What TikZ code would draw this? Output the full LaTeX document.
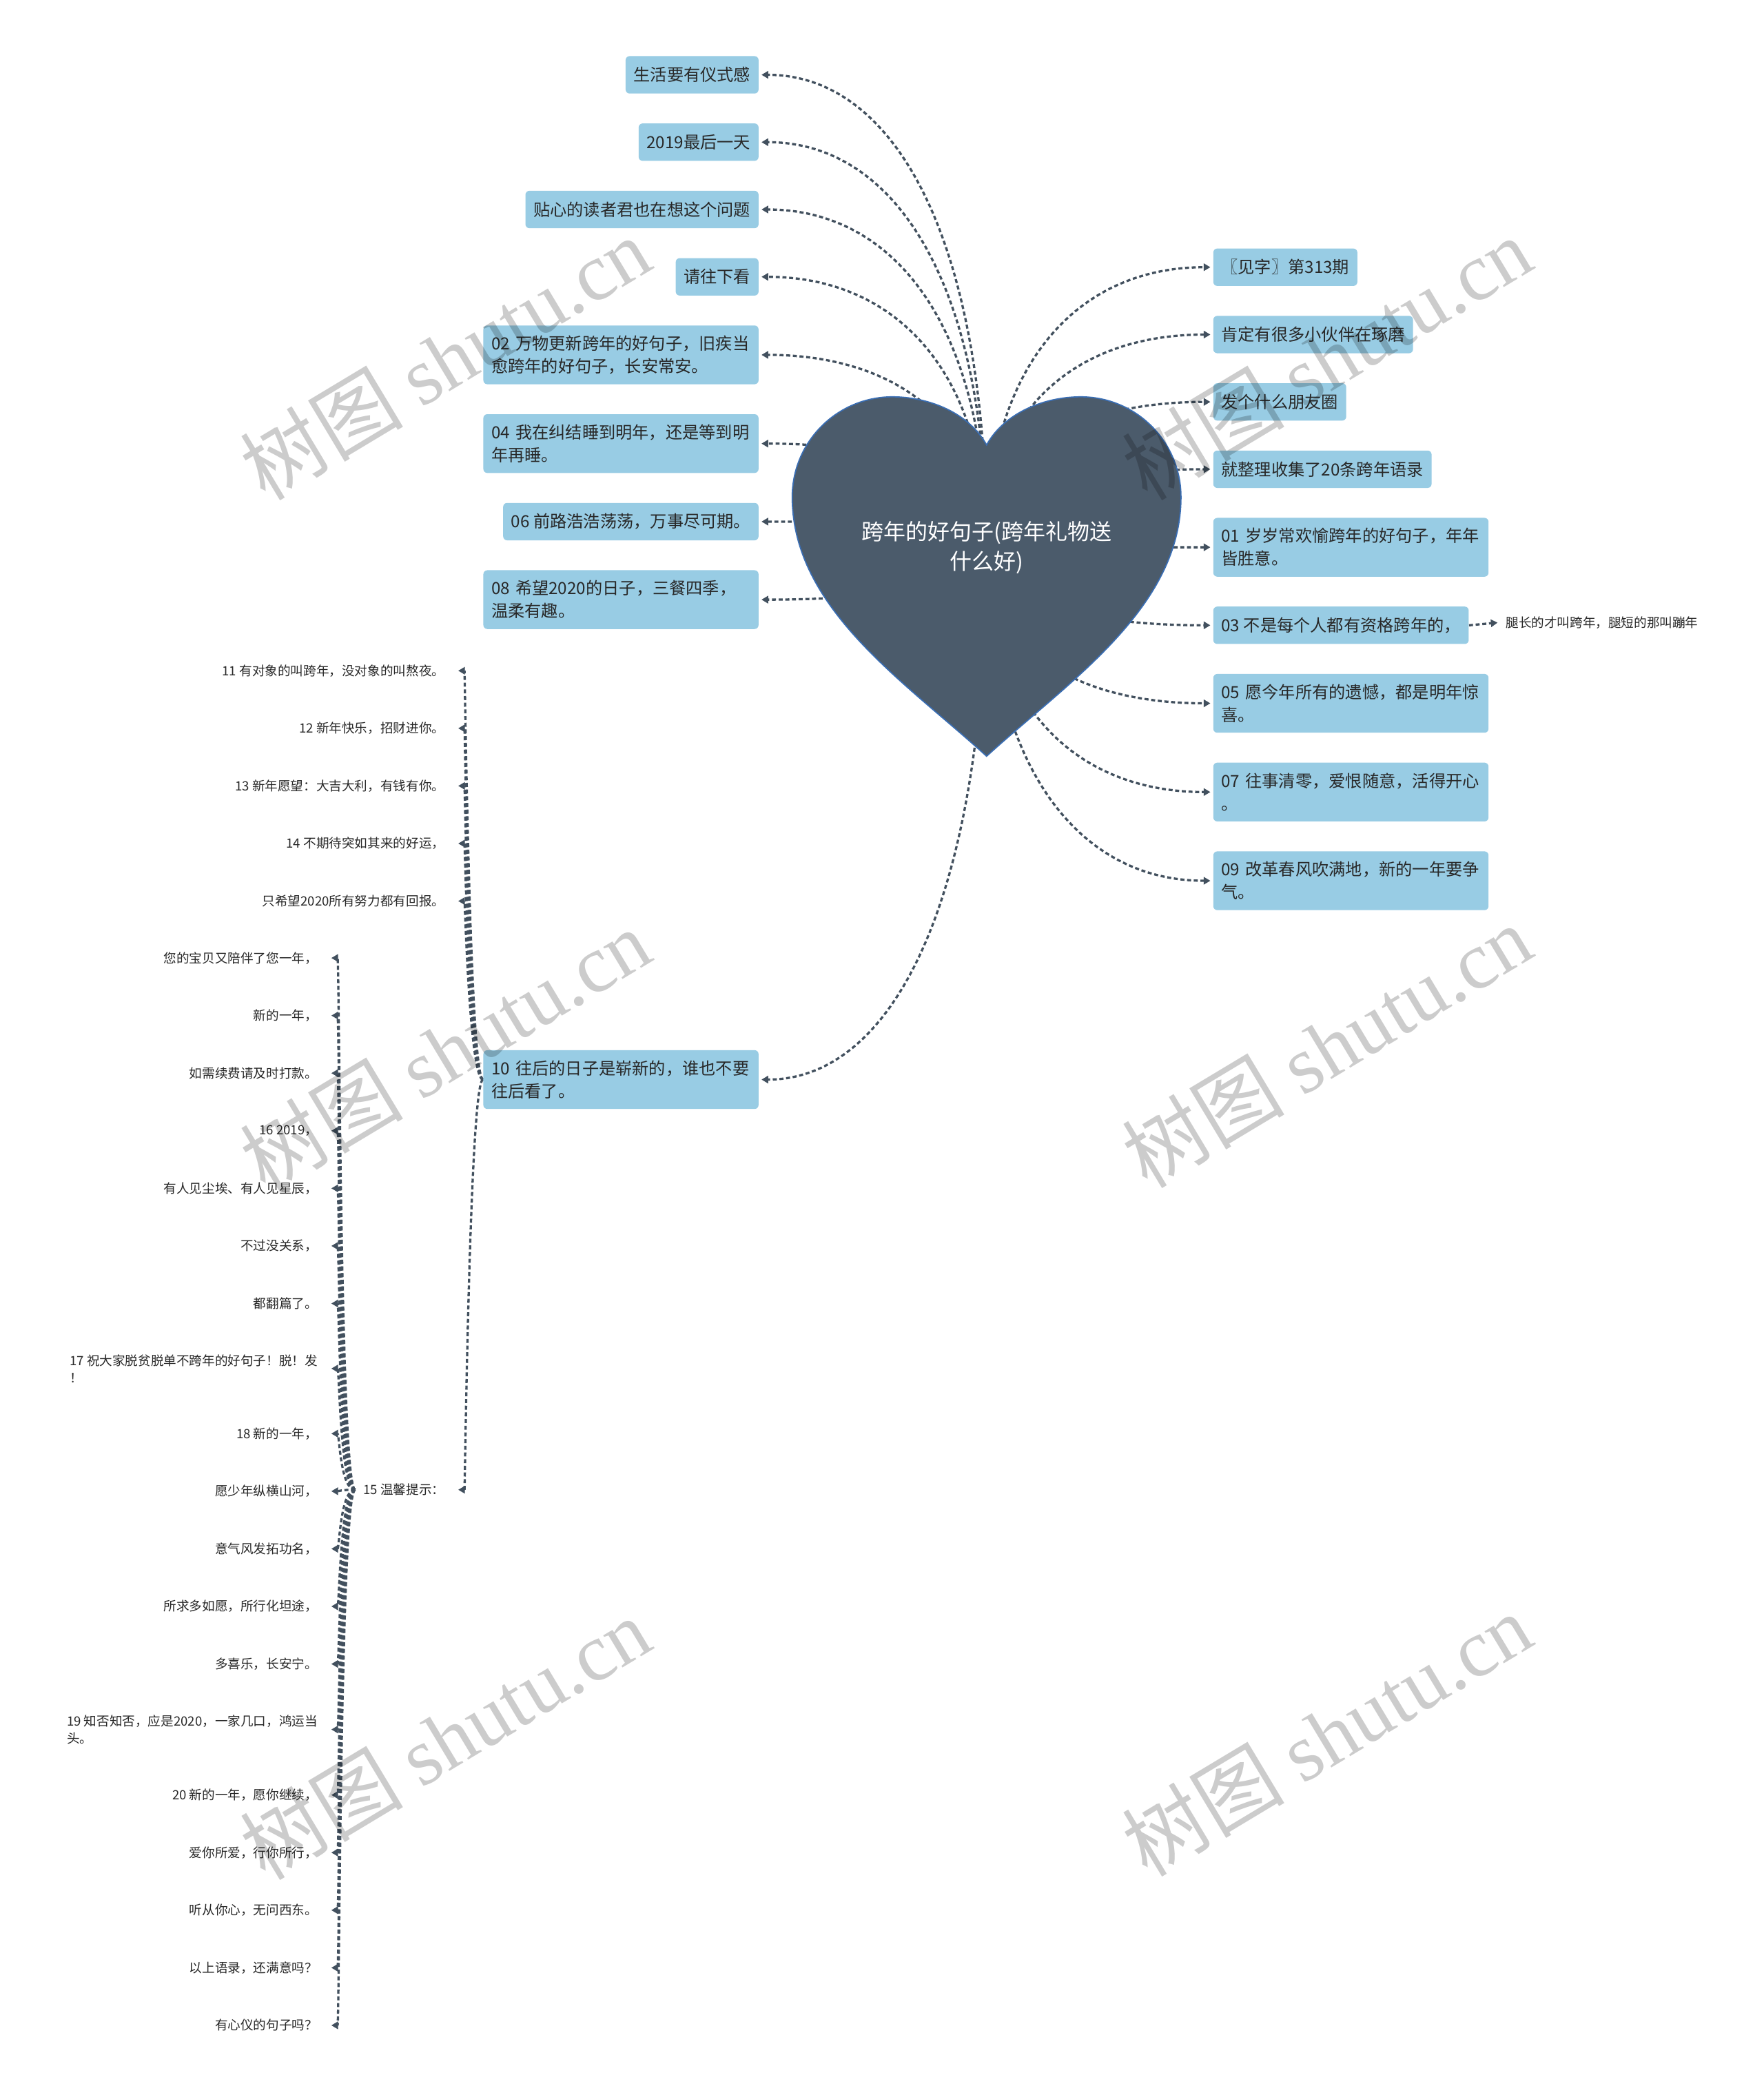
\documentclass[tikz,border=0pt]{standalone}
\usepackage{fontspec}
\setmainfont{Noto Sans CJK SC}
\newfontfamily\wmserif{Liberation Serif}
\usepackage{xcolor}
\usepackage{tikz}
\usetikzlibrary{arrows.meta,positioning,calc}

\definecolor{heartfill}{RGB}{75,91,107}
\definecolor{heartedge}{RGB}{58,110,180}
\definecolor{boxblue}{RGB}{152,204,228}
\definecolor{linkgray}{RGB}{66,80,94}
\definecolor{inkdark}{RGB}{40,40,40}

\pgfdeclarelayer{paper}
\pgfdeclarelayer{links}
\pgfsetlayers{paper,links,main}

\begin{document}
\begin{tikzpicture}[
  x=1pt,y=-1pt,
  every node/.style={text=inkdark},
  box/.style={rectangle,rounded corners=3pt,fill=boxblue,inner xsep=6pt,inner ysep=7pt,minimum height=28pt,font=\fontsize{12.5}{17}\selectfont},
  widebox/.style={box,text width=194pt,align=left,minimum height=44pt},
  leaf/.style={inner xsep=6pt,inner ysep=0pt,minimum height=10pt,align=left,font=\fontsize{9.6}{13}\selectfont},
  rootlabel/.style={text=white,align=center,font=\fontsize{16.5}{22}\selectfont},
  heart/.style={fill=heartfill,draw=heartedge,line width=0.9pt},
  arrow/.style={draw=linkgray,line width=1.7pt,dash pattern=on 3pt off 2pt,-{Triangle[length=5pt,width=5.5pt]}},
  toroot/.style={arrow,shorten >=2pt},
  branch/.style={to path={.. controls ($(\tikztostart)!0.65!(\tikztostart |- \tikztotarget)$) and ($(\tikztotarget)!0.6!(\tikztostart |- \tikztotarget)$) .. (\tikztotarget)}},
  wmark/.style={text=black,opacity=0.2,rotate=31,font=\fontsize{61}{61}\selectfont}
]
\useasboundingbox (0,0) rectangle (1320,1568);
\begin{pgfonlayer}{paper}
\fill[white] (0,0) rectangle (1320,1568);
\end{pgfonlayer}

% root
\draw[heart] (738.5,333) .. controls (725.3,309) and (695.3,297) .. (668,297)
  .. controls (626.6,297) and (593,330.6) .. (593,372)
  .. controls (593,455) and (677,510) .. (738.5,566)
  .. controls (800,510) and (884,455) .. (884,372)
  .. controls (884,330.6) and (850.4,297) .. (809,297)
  .. controls (781.7,297) and (751.7,309) .. (738.5,333) -- cycle;
\node[rootlabel] (root) at (738.5,410) {跨年的好句子(跨年礼物送\\什么好)};

% left column
\node[box,anchor=east] (ritual) at (568,56) {生活要有仪式感};
\node[box,below=22pt of ritual.south east,anchor=north east] (lastday) {2019最后一天};
\node[box,below=22pt of lastday.south east,anchor=north east] (reader) {贴心的读者君也在想这个问题};
\node[box,below=22pt of reader.south east,anchor=north east] (readon) {请往下看};
\node[widebox,below=22pt of readon.south east,anchor=north east] (s02) {02 万物更新跨年的好句子，旧疾当\\愈跨年的好句子，长安常安。};
\node[widebox,below=22pt of s02.south east,anchor=north east] (s04) {04 我在纠结睡到明年，还是等到明\\年再睡。};
\node[box,below=22pt of s04.south east,anchor=north east] (s06) {06 前路浩浩荡荡，万事尽可期。};
\node[widebox,below=22pt of s06.south east,anchor=north east] (s08) {08 希望2020的日子，三餐四季，\\温柔有趣。};
\node[widebox,anchor=east] (s10) at (568,808) {10 往后的日子是崭新的，谁也不要\\往后看了。};

% right column
\node[box,anchor=west] (issue) at (908,200) {〖见字〗第313期};
\node[box,below=22pt of issue.south west,anchor=north west] (friends) {肯定有很多小伙伴在琢磨};
\node[box,below=22pt of friends.south west,anchor=north west] (moments) {发个什么朋友圈};
\node[box,below=22pt of moments.south west,anchor=north west] (collect) {就整理收集了20条跨年语录};
\node[widebox,below=22pt of collect.south west,anchor=north west] (s01) {01 岁岁常欢愉跨年的好句子，年年\\皆胜意。};
\node[box,below=22pt of s01.south west,anchor=north west] (s03) {03 不是每个人都有资格跨年的，};
\node[widebox,below=22pt of s03.south west,anchor=north west] (s05) {05 愿今年所有的遗憾，都是明年惊\\喜。};
\node[widebox,below=22pt of s05.south west,anchor=north west] (s07) {07 往事清零，爱恨随意，活得开心\\。};
\node[widebox,below=22pt of s07.south west,anchor=north west] (s09) {09 改革春风吹满地，新的一年要争\\气。};
\node[leaf,anchor=west] (legs) at (1121,466) {腿长的才叫跨年，腿短的那叫蹦年};

% under 10
\node[leaf,anchor=east] (s11) at (339,502) {11 有对象的叫跨年，没对象的叫熬夜。};
\node[leaf,below=32.7pt of s11.south east,anchor=north east] (s12) {12 新年快乐，招财进你。};
\node[leaf,below=32.7pt of s12.south east,anchor=north east] (s13) {13 新年愿望：大吉大利，有钱有你。};
\node[leaf,below=32.7pt of s13.south east,anchor=north east] (s14) {14 不期待突如其来的好运，};
\node[leaf,below=32.7pt of s14.south east,anchor=north east] (hope) {只希望2020所有努力都有回报。};
\node[leaf,anchor=east] (s15) at (339,1115) {15 温馨提示：};

% under 15
\node[leaf,anchor=east] (p1) at (244,717) {您的宝贝又陪伴了您一年，};
\node[leaf,below=32.7pt of p1.south east,anchor=north east] (p2) {新的一年，};
\node[leaf,below=32.7pt of p2.south east,anchor=north east] (p3) {如需续费请及时打款。};
\node[leaf,below=32.7pt of p3.south east,anchor=north east] (s16) {16 2019，};
\node[leaf,below=32.7pt of s16.south east,anchor=north east] (q1) {有人见尘埃、有人见星辰，};
\node[leaf,below=32.7pt of q1.south east,anchor=north east] (q2) {不过没关系，};
\node[leaf,below=32.7pt of q2.south east,anchor=north east] (q3) {都翻篇了。};
\node[leaf,below=32.7pt of q3.south east,anchor=north east] (s17) {17 祝大家脱贫脱单不跨年的好句子！脱！发\\！};
\node[leaf,below=32.7pt of s17.south east,anchor=north east] (s18) {18 新的一年，};
\node[leaf,below=32.7pt of s18.south east,anchor=north east] (r1) {愿少年纵横山河，};
\node[leaf,below=32.7pt of r1.south east,anchor=north east] (r2) {意气风发拓功名，};
\node[leaf,below=32.7pt of r2.south east,anchor=north east] (r3) {所求多如愿，所行化坦途，};
\node[leaf,below=32.7pt of r3.south east,anchor=north east] (r4) {多喜乐，长安宁。};
\node[leaf,below=32.7pt of r4.south east,anchor=north east] (s19) {19 知否知否，应是2020，一家几口，鸿运当\\头。};
\node[leaf,below=32.7pt of s19.south east,anchor=north east] (s20) {20 新的一年，愿你继续，};
\node[leaf,below=32.7pt of s20.south east,anchor=north east] (u1) {爱你所爱，行你所行，};
\node[leaf,below=32.7pt of u1.south east,anchor=north east] (u2) {听从你心，无问西东。};
\node[leaf,below=32.7pt of u2.south east,anchor=north east] (u3) {以上语录，还满意吗？};
\node[leaf,below=32.7pt of u3.south east,anchor=north east] (u4) {有心仪的句子吗？};

\begin{pgfonlayer}{links}
\draw[toroot] (root.center) to[branch] (ritual.east);
\draw[toroot] (root.center) to[branch] (lastday.east);
\draw[toroot] (root.center) to[branch] (reader.east);
\draw[toroot] (root.center) to[branch] (readon.east);
\draw[toroot] (root.center) to[branch] (s02.east);
\draw[toroot] (root.center) to[branch] (s04.east);
\draw[toroot] (root.center) to[branch] (s06.east);
\draw[toroot] (root.center) to[branch] (s08.east);
\draw[toroot] (root.center) to[branch] (s10.east);
\draw[toroot] (root.center) to[branch] (issue.west);
\draw[toroot] (root.center) to[branch] (friends.west);
\draw[toroot] (root.center) to[branch] (moments.west);
\draw[toroot] (root.center) to[branch] (collect.west);
\draw[toroot] (root.center) to[branch] (s01.west);
\draw[toroot] (root.center) to[branch] (s03.west);
\draw[toroot] (root.center) to[branch] (s05.west);
\draw[toroot] (root.center) to[branch] (s07.west);
\draw[toroot] (root.center) to[branch] (s09.west);
\draw[arrow] (s03.east) -- (legs.west);

\draw[arrow] (s10.west) .. controls +(-10,0) and +(5,0) .. ([xshift=4pt]s11.east);
\draw[arrow] (s10.west) .. controls +(-10,0) and +(5,0) .. ([xshift=4pt]s12.east);
\draw[arrow] (s10.west) .. controls +(-10,0) and +(5,0) .. ([xshift=4pt]s13.east);
\draw[arrow] (s10.west) .. controls +(-10,0) and +(5,0) .. ([xshift=4pt]s14.east);
\draw[arrow] (s10.west) .. controls +(-10,0) and +(5,0) .. ([xshift=4pt]hope.east);
\draw[arrow] (s10.west) .. controls +(-10,0) and +(5,0) .. ([xshift=4pt]s15.east);

\draw[arrow] (s15.west) .. controls +(-11,0) and +(6,0) .. ([xshift=4pt]p1.east);
\draw[arrow] (s15.west) .. controls +(-11,0) and +(6,0) .. ([xshift=4pt]p2.east);
\draw[arrow] (s15.west) .. controls +(-11,0) and +(6,0) .. ([xshift=4pt]p3.east);
\draw[arrow] (s15.west) .. controls +(-11,0) and +(6,0) .. ([xshift=4pt]s16.east);
\draw[arrow] (s15.west) .. controls +(-11,0) and +(6,0) .. ([xshift=4pt]q1.east);
\draw[arrow] (s15.west) .. controls +(-11,0) and +(6,0) .. ([xshift=4pt]q2.east);
\draw[arrow] (s15.west) .. controls +(-11,0) and +(6,0) .. ([xshift=4pt]q3.east);
\draw[arrow] (s15.west) .. controls +(-11,0) and +(6,0) .. ([xshift=4pt]s17.east);
\draw[arrow] (s15.west) .. controls +(-11,0) and +(6,0) .. ([xshift=4pt]s18.east);
\draw[arrow] (s15.west) .. controls +(-11,0) and +(6,0) .. ([xshift=4pt]r1.east);
\draw[arrow] (s15.west) .. controls +(-11,0) and +(6,0) .. ([xshift=4pt]r2.east);
\draw[arrow] (s15.west) .. controls +(-11,0) and +(6,0) .. ([xshift=4pt]r3.east);
\draw[arrow] (s15.west) .. controls +(-11,0) and +(6,0) .. ([xshift=4pt]r4.east);
\draw[arrow] (s15.west) .. controls +(-11,0) and +(6,0) .. ([xshift=4pt]s19.east);
\draw[arrow] (s15.west) .. controls +(-11,0) and +(6,0) .. ([xshift=4pt]s20.east);
\draw[arrow] (s15.west) .. controls +(-11,0) and +(6,0) .. ([xshift=4pt]u1.east);
\draw[arrow] (s15.west) .. controls +(-11,0) and +(6,0) .. ([xshift=4pt]u2.east);
\draw[arrow] (s15.west) .. controls +(-11,0) and +(6,0) .. ([xshift=4pt]u3.east);
\draw[arrow] (s15.west) .. controls +(-11,0) and +(6,0) .. ([xshift=4pt]u4.east);
\end{pgfonlayer}

% watermark
\node[wmark] (wm1) at (333,268) {树图 {\wmserif shutu.cn}};
\node[wmark] (wm2) at (993,268) {树图 {\wmserif shutu.cn}};
\node[wmark] (wm3) at (333,786) {树图 {\wmserif shutu.cn}};
\node[wmark] (wm4) at (993,783) {树图 {\wmserif shutu.cn}};
\node[wmark] (wm5) at (333,1301) {树图 {\wmserif shutu.cn}};
\node[wmark] (wm6) at (993,1298) {树图 {\wmserif shutu.cn}};
\end{tikzpicture}
\end{document}
